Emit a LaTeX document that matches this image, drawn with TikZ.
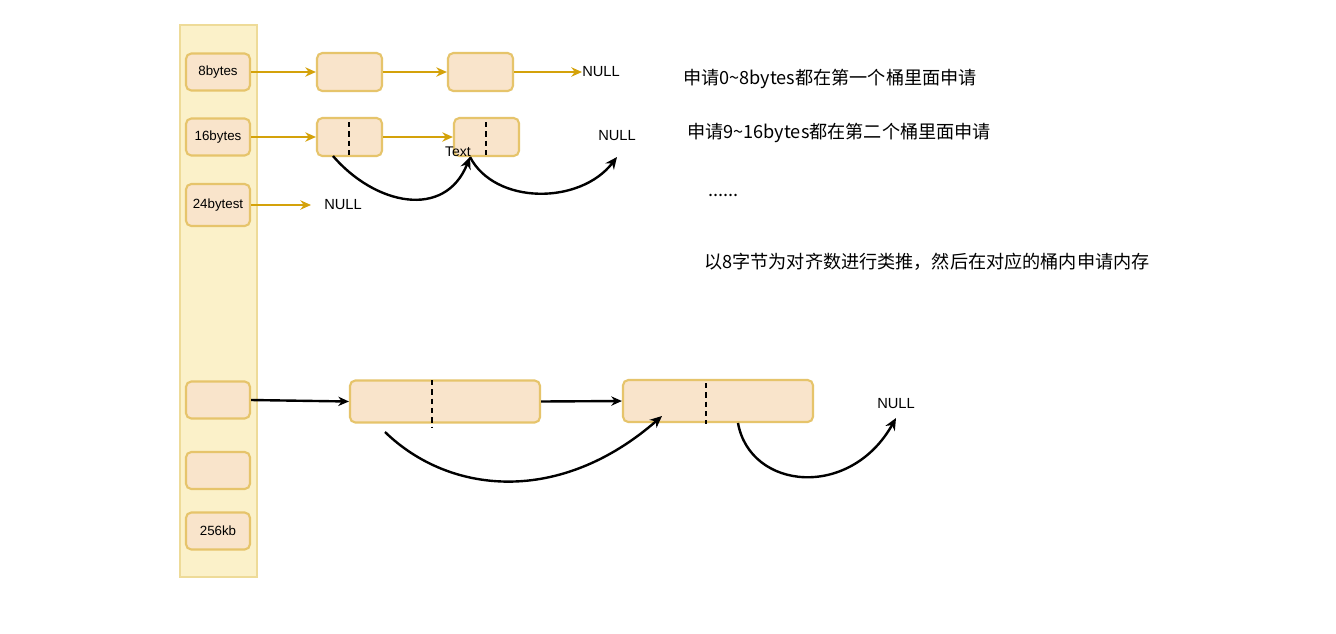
\documentclass[tikz,border=0pt]{standalone}
\usepackage{fontspec}
\setmainfont{Liberation Sans}
\newfontfamily\cjk{Noto Sans CJK SC}
\usetikzlibrary{arrows.meta}
\definecolor{colfill}{HTML}{F9E4CB}
\definecolor{coledge}{HTML}{E6C46B}
\definecolor{colbg}{HTML}{FBF1C9}
\definecolor{colbgedge}{HTML}{EEDB98}
\definecolor{gold}{HTML}{D4A20A}
\begin{document}
\begin{tikzpicture}[x=0.75pt,y=-0.75pt,
  cell/.style={draw=coledge, fill=colfill, line width=1.6pt, rounded corners=4pt, inner sep=0pt},
  bucket/.style={cell, minimum width=48pt, minimum height=27.75pt, font=\fontsize{10}{12}\selectfont},
  small/.style={cell, minimum width=48.75pt, minimum height=28.5pt},
  wide/.style={cell, minimum width=142.5pt, minimum height=31.5pt},
  garrow/.style={draw=gold, line width=1.8pt, -{Stealth[length=8pt,width=7pt]}},
  barrow/.style={draw=black, line width=1.8pt, -{Stealth[length=8pt,width=7pt]}},
  curve/.style={draw=black, line width=1.8pt, -{Stealth[length=9pt,width=8pt]}},
  sep/.style={draw=black, line width=1.5pt, dash pattern=on 4pt off 3pt},
  nulltxt/.style={inner sep=0pt, font=\fontsize{11}{13}\selectfont},
  note/.style={inner sep=0pt, anchor=west, font=\cjk\fontsize{13.6}{16}\selectfont}]
\useasboundingbox (0,0) rectangle (1336,633);
\fill[white] (0,0) rectangle (1336,633);
% background column
\node[draw=colbgedge, fill=colbg, line width=1pt, minimum width=57.75pt, minimum height=414pt, inner sep=0pt] (col) at (218.5,301) {};
% buckets
\node[bucket] (k8) at (218,72) {8bytes};
\node[bucket] (k16) at (218,137) {16bytes};
\node[bucket, minimum height=31.5pt] (k24) at (218,205) {24bytest};
\node[bucket] (kx) at (218,400) {};
\node[bucket] (ky) at (218,470.5) {};
\node[bucket] (k256) at (218,531) {256kb};
% row 1
\node[small] (r1a) at (349.5,72) {};
\node[small] (r1b) at (480.5,72) {};
\node[nulltxt, anchor=west] (n1) at (582,72) {NULL};
\draw[garrow] (k8.east) -- (r1a.west);
\draw[garrow] (r1a.east) -- (r1b.west);
\draw[garrow] (r1b.east) -- (n1.west);
% row 2
\node[small] (r2a) at (349.5,137) {};
\node[small] (r2b) at (486.5,137) {};
\node[nulltxt] (n2) at (617,136) {NULL};
\draw[sep] (349,122) -- (349,156);
\draw[sep] (486,122) -- (486,157);
\draw[garrow] (k16.east) -- (r2a.west);
\draw[garrow] (r2a.east) -- (r2b.west);
\node[inner sep=0pt, font=\fontsize{10.5}{12}\selectfont] (txt) at (458,152) {Text};
\coordinate (c2a) at (333,156);
\coordinate (c2b) at (470,157);
\coordinate (c2n) at (617,157);
\draw[curve] (c2a) .. controls (375,205) and (445,220) .. (c2b);
\draw[curve] (c2b) .. controls (495,205) and (580,205) .. (c2n);
% row 3
\coordinate (c24) at (311,205);
\node[nulltxt] (n3) at (343,205) {NULL};
\draw[garrow] (k24.east) -- (c24);
% bottom row
\node[wide] (s1) at (445,401.5) {};
\node[wide] (s2) at (718,401) {};
\draw[sep] (432,380) -- (432,428);
\draw[sep] (706,383) -- (706,424);
\node[nulltxt] (n4) at (896,404) {NULL};
\draw[barrow] (kx.east) -- (s1.west);
\draw[barrow] (s1.east) -- (s2.west);
\coordinate (c4a) at (385,432);
\coordinate (c4b) at (662,416);
\coordinate (c4c) at (738,423);
\coordinate (c4n) at (896,418);
\draw[curve] (c4a) .. controls (450,495) and (560,505) .. (c4b);
\draw[curve] (c4c) .. controls (750,490) and (850,500) .. (c4n);
% notes
\node[note] (t1) at (683,79) {申请0\textasciitilde 8bytes都在第一个桶里面申请};
\node[note] (t2) at (687,133) {申请9\textasciitilde 16bytes都在第二个桶里面申请};
\node[note] (t3) at (708,195) {......};
\node[note] (t4) at (704,262) {以8字节为对齐数进行类推，然后在对应的桶内申请内存};
\end{tikzpicture}
\end{document}
